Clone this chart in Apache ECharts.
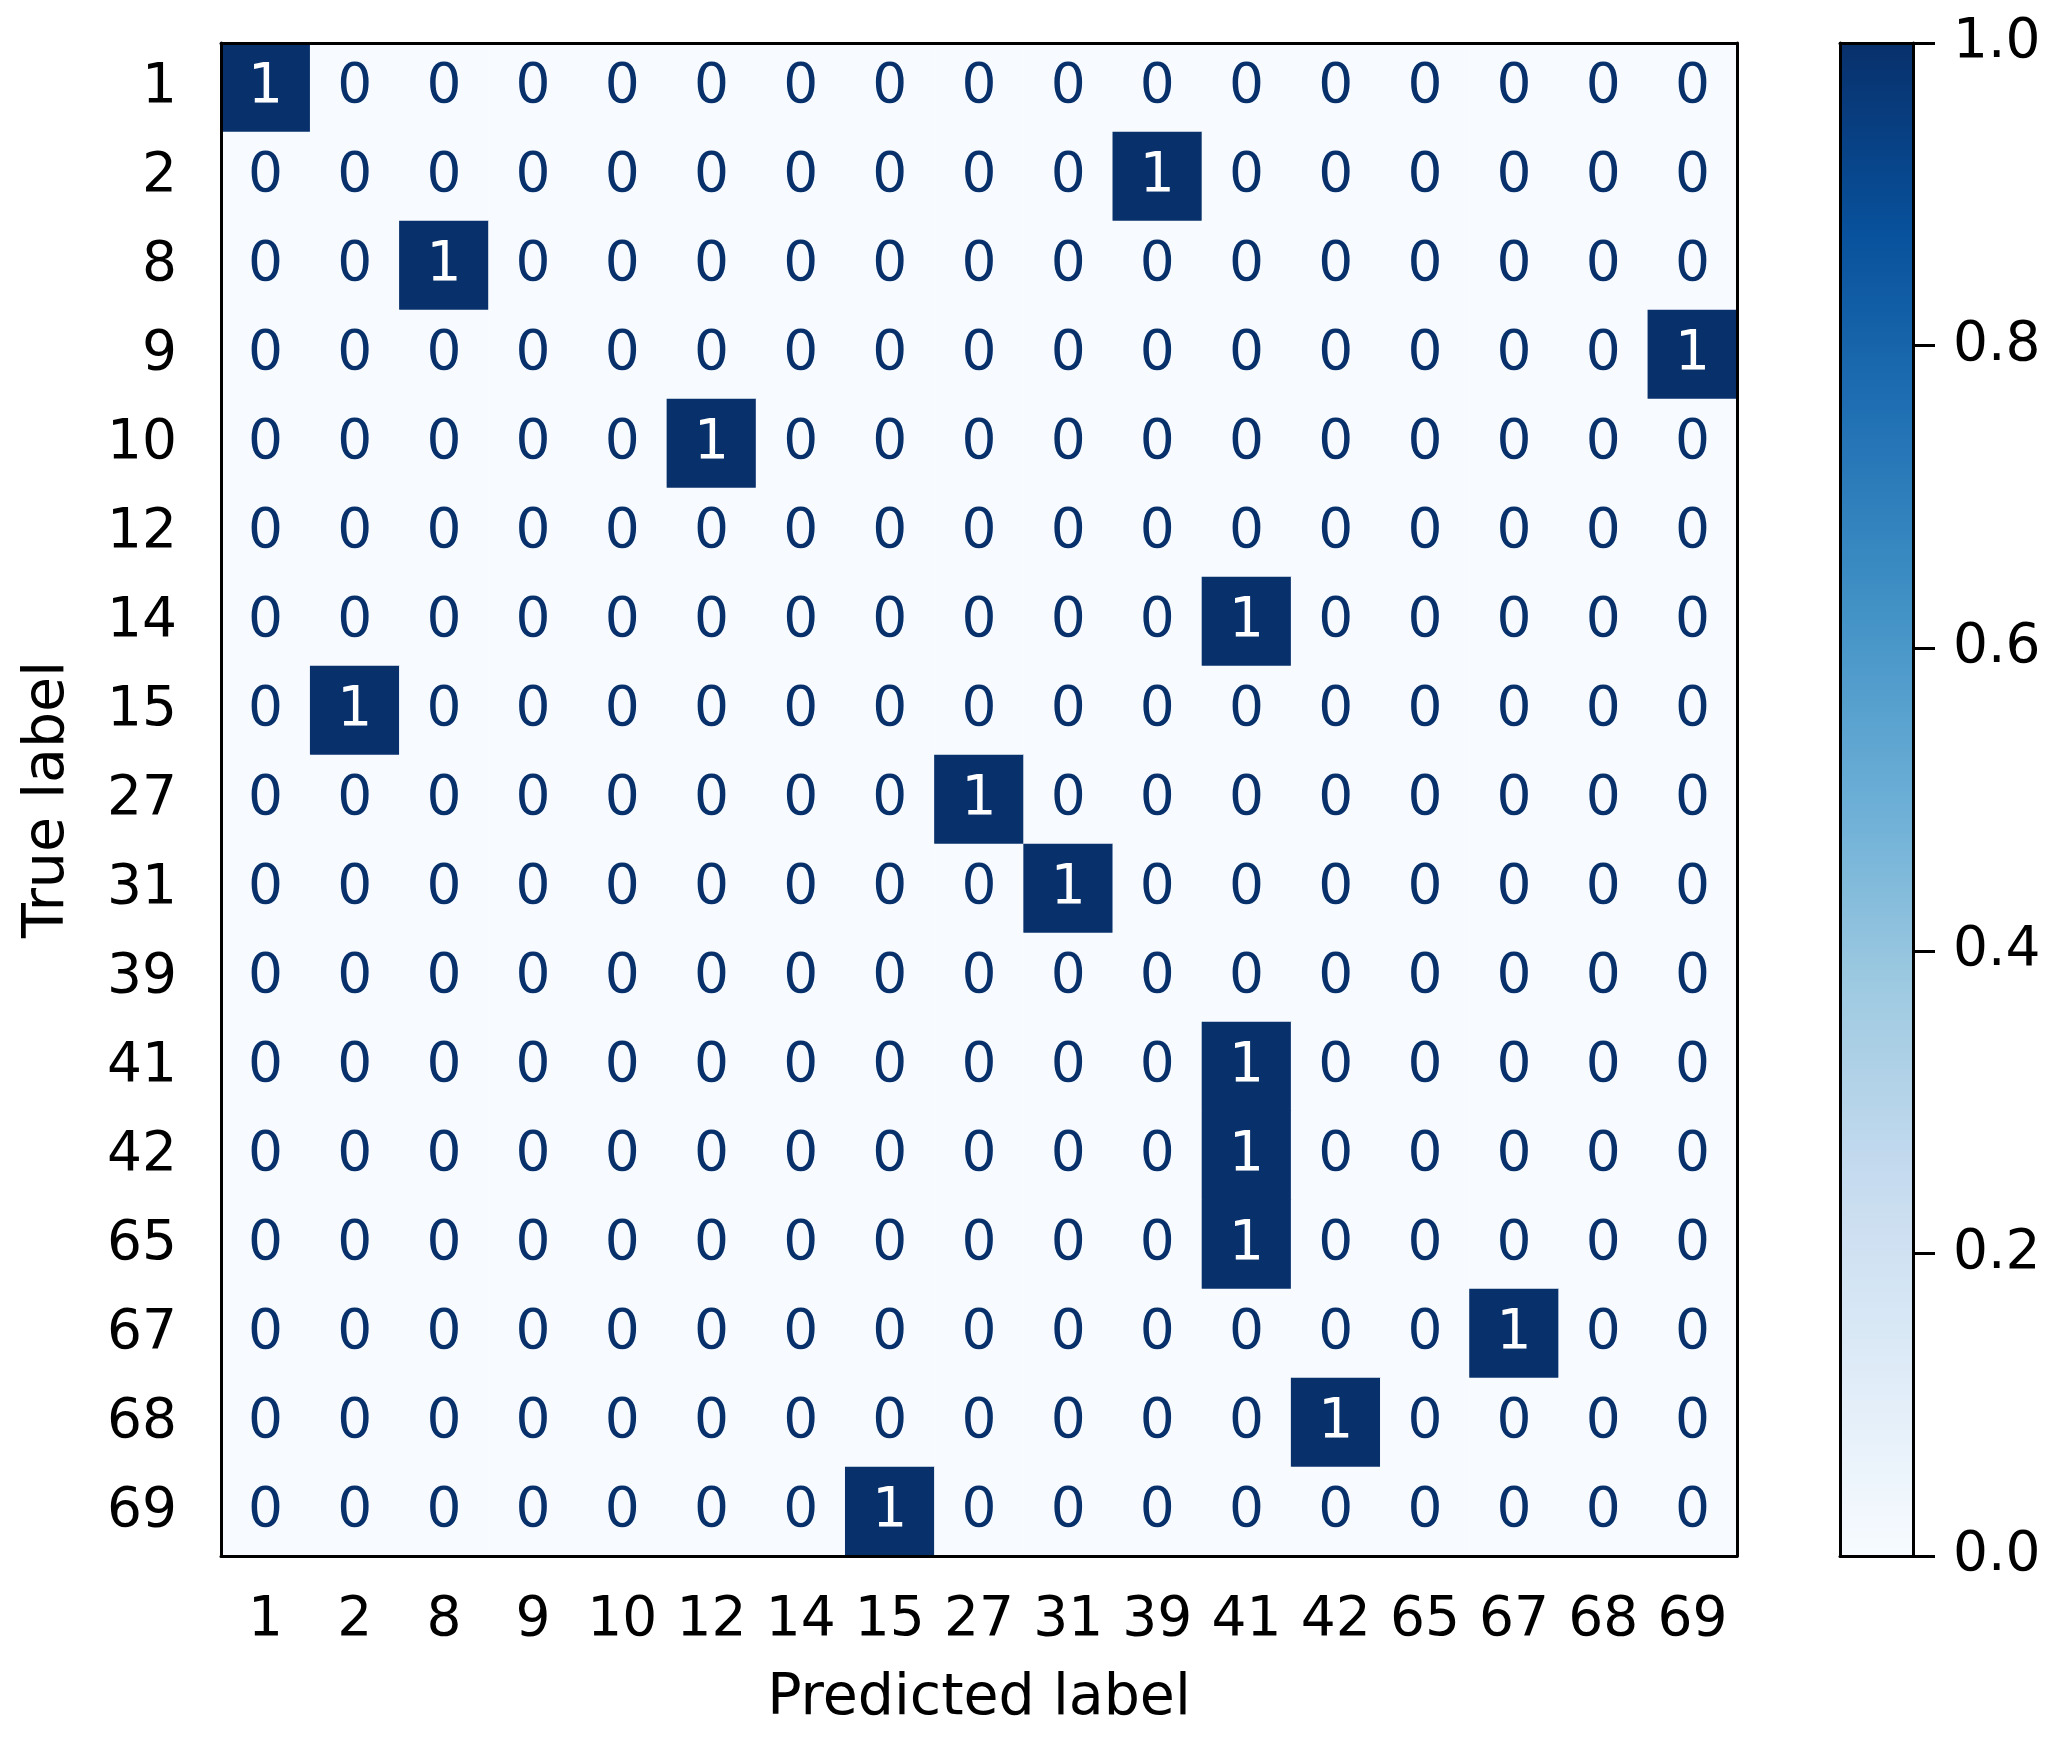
<!DOCTYPE html>
<html>
<head>
<meta charset="utf-8">
<script src="https://cdn.jsdelivr.net/npm/echarts@6/dist/echarts.min.js"></script>
<style>
  html, body { margin: 0; padding: 0; background: #fff; }
  #cm { width: 2050px; height: 1741px; }
</style>
</head>
<body>
<div id="cm"></div>
<script>
// class labels (same order for true and predicted)
const labels = ['1', '2', '8', '9', '10', '12', '14', '15', '27', '31', '39', '41', '42', '65', '67', '68', '69']

// confusion matrix, rows = true label, columns = predicted label
const counts = [
  [1, 0, 0, 0, 0, 0, 0, 0, 0, 0, 0, 0, 0, 0, 0, 0, 0],
  [0, 0, 0, 0, 0, 0, 0, 0, 0, 0, 1, 0, 0, 0, 0, 0, 0],
  [0, 0, 1, 0, 0, 0, 0, 0, 0, 0, 0, 0, 0, 0, 0, 0, 0],
  [0, 0, 0, 0, 0, 0, 0, 0, 0, 0, 0, 0, 0, 0, 0, 0, 1],
  [0, 0, 0, 0, 0, 1, 0, 0, 0, 0, 0, 0, 0, 0, 0, 0, 0],
  [0, 0, 0, 0, 0, 0, 0, 0, 0, 0, 0, 0, 0, 0, 0, 0, 0],
  [0, 0, 0, 0, 0, 0, 0, 0, 0, 0, 0, 1, 0, 0, 0, 0, 0],
  [0, 1, 0, 0, 0, 0, 0, 0, 0, 0, 0, 0, 0, 0, 0, 0, 0],
  [0, 0, 0, 0, 0, 0, 0, 0, 1, 0, 0, 0, 0, 0, 0, 0, 0],
  [0, 0, 0, 0, 0, 0, 0, 0, 0, 1, 0, 0, 0, 0, 0, 0, 0],
  [0, 0, 0, 0, 0, 0, 0, 0, 0, 0, 0, 0, 0, 0, 0, 0, 0],
  [0, 0, 0, 0, 0, 0, 0, 0, 0, 0, 0, 1, 0, 0, 0, 0, 0],
  [0, 0, 0, 0, 0, 0, 0, 0, 0, 0, 0, 1, 0, 0, 0, 0, 0],
  [0, 0, 0, 0, 0, 0, 0, 0, 0, 0, 0, 1, 0, 0, 0, 0, 0],
  [0, 0, 0, 0, 0, 0, 0, 0, 0, 0, 0, 0, 0, 0, 1, 0, 0],
  [0, 0, 0, 0, 0, 0, 0, 0, 0, 0, 0, 0, 1, 0, 0, 0, 0],
  [0, 0, 0, 0, 0, 0, 0, 1, 0, 0, 0, 0, 0, 0, 0, 0, 0],
]

// colorbar range and ticks
const cbarMin = 0
const cbarMax = 1
const cbarStep = 0.2

// matplotlib "Blues"
const blues = ['#f7fbff', '#deebf7', '#c6dbef', '#9ecae1', '#6baed6', '#4292c6', '#2171b5', '#08519c', '#08306b']

const FONT = 'DejaVu Sans'
const FS = 55

let cells = []
counts.forEach((row, yi) => {
  row.forEach((v, xi) => {
    cells.push({
      value: [xi, yi, v],
      label: { color: v > (cbarMax + cbarMin) / 2 ? '#ffffff' : '#08306b' },
    })
  })
})

const lineOnly = {
  axisLine: { show: true, onZero: false, lineStyle: { color: '#000', width: 3 } },
  axisTick: { show: false },
  axisLabel: { show: false },
  splitLine: { show: false },
  z: 5,
}

let option = {
  animation: false,
  backgroundColor: '#fff',
  grid: [
    { left: 221, top: 43, width: 1516, height: 1513, containLabel: false },
    { left: 1840, top: 43, width: 73, height: 1513, containLabel: false },
  ],
  xAxis: [
    {
      type: 'category',
      gridIndex: 0,
      position: 'bottom',
      data: labels,
      name: 'Predicted label',
      nameLocation: 'middle',
      nameGap: 115,
      nameTextStyle: { fontFamily: FONT, fontSize: 57, color: '#000' },
      axisLine: { lineStyle: { color: '#000', width: 3 } },
      axisTick: { alignWithLabel: true, length: 21, lineStyle: { color: '#000', width: 3 } },
      axisLabel: { interval: 0, margin: 37, fontFamily: FONT, fontSize: FS, color: '#000' },
      splitLine: { show: false },
      z: 5,
    },
    Object.assign({ type: 'category', gridIndex: 0, position: 'top', data: labels }, lineOnly),
    Object.assign({ type: 'value', gridIndex: 1, position: 'bottom', min: 0, max: 1 }, lineOnly),
    Object.assign({ type: 'value', gridIndex: 1, position: 'top', min: 0, max: 1 }, lineOnly),
  ],
  yAxis: [
    {
      type: 'category',
      gridIndex: 0,
      position: 'left',
      inverse: true,
      data: labels,
      name: 'True label',
      nameLocation: 'middle',
      nameRotate: 90,
      nameGap: 144,
      nameTextStyle: { fontFamily: FONT, fontSize: 57, color: '#000' },
      axisLine: { lineStyle: { color: '#000', width: 3 } },
      axisTick: { alignWithLabel: true, length: 22, lineStyle: { color: '#000', width: 3 } },
      axisLabel: { interval: 0, margin: 44, fontFamily: FONT, fontSize: FS, color: '#000' },
      splitLine: { show: false },
      z: 5,
    },
    Object.assign({ type: 'category', gridIndex: 0, position: 'right', inverse: true, data: labels }, lineOnly),
    {
      type: 'value',
      gridIndex: 1,
      position: 'right',
      min: cbarMin,
      max: cbarMax,
      interval: cbarStep,
      axisLine: { show: true, onZero: false, lineStyle: { color: '#000', width: 3 } },
      axisTick: { show: true, length: 22, lineStyle: { color: '#000', width: 3 } },
      axisLabel: {
        margin: 40,
        fontFamily: FONT,
        fontSize: FS,
        color: '#000',
        formatter: (v) => v.toFixed(1),
      },
      splitLine: { show: false },
      z: 5,
    },
    Object.assign({ type: 'value', gridIndex: 1, position: 'left', min: 0, max: 1 }, lineOnly),
  ],
  visualMap: {
    type: 'continuous',
    min: cbarMin,
    max: cbarMax,
    calculable: false,
    orient: 'vertical',
    left: 1840,
    top: 43,
    padding: 0,
    itemWidth: 73,
    itemHeight: 1513,
    seriesIndex: 0,
    inRange: { color: blues },
  },
  series: [
    {
      type: 'heatmap',
      xAxisIndex: 0,
      yAxisIndex: 0,
      data: cells,
      label: {
        show: true,
        fontFamily: FONT,
        fontSize: FS,
        formatter: (p) => p.value[2],
      },
      itemStyle: { borderWidth: 0 },
      emphasis: { disabled: true },
    },
  ],
}

let chart = echarts.init(document.getElementById('cm'))
chart.setOption(option)
</script>
</body>
</html>
